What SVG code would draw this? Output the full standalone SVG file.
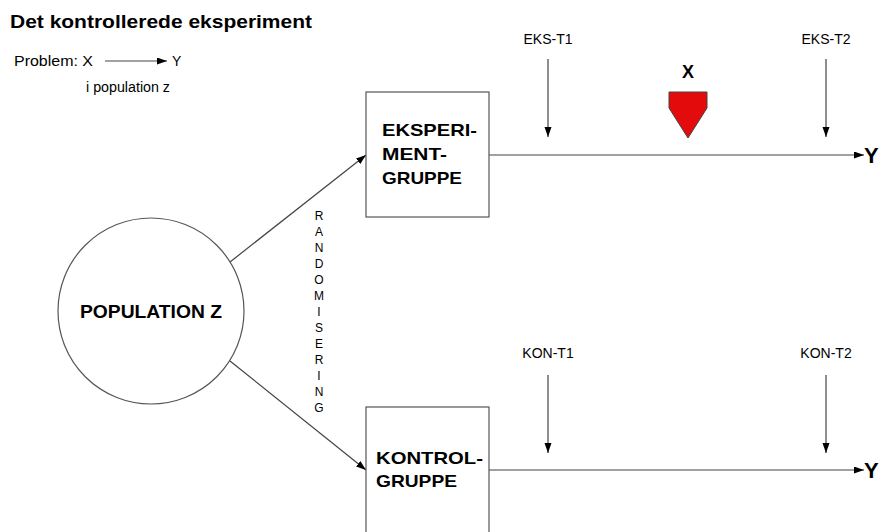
<svg xmlns="http://www.w3.org/2000/svg" width="881" height="532" viewBox="0 0 881 532">
<defs>
<style>
text{font-family:"Liberation Sans",Arial,sans-serif;fill:#000}
.b{font-weight:bold}
.ln{stroke:#444;stroke-width:1.2;fill:none}
.shape{fill:#fff;stroke:#555;stroke-width:1.2}
.lbl{font-size:14px;text-anchor:middle}
.rnd{font-size:12px;text-anchor:middle}
</style>
<marker id="ah" markerUnits="userSpaceOnUse" markerWidth="11" markerHeight="8" refX="10" refY="3.5" orient="auto">
<path d="M0,0 L10,3.5 L0,7 z" fill="#000"/>
</marker>
</defs>
<rect width="881" height="532" fill="#fff"/>
<g id="title">
<text class="b" x="10" y="28" font-size="18.5" textLength="302" lengthAdjust="spacingAndGlyphs">Det kontrollerede eksperiment</text>
<text x="14" y="66" font-size="14" textLength="79" lengthAdjust="spacingAndGlyphs">Problem: X</text>
<text x="172" y="66" font-size="14">Y</text>
<text x="86" y="92" font-size="14" textLength="84" lengthAdjust="spacingAndGlyphs">i population z</text>
</g>
<g id="connectors">
<line class="ln" x1="105" y1="61" x2="167" y2="61" marker-end="url(#ah)"/>
<line class="ln" x1="230" y1="262" x2="366" y2="155" marker-end="url(#ah)"/>
<line class="ln" x1="230" y1="361" x2="366" y2="470" marker-end="url(#ah)"/>
<line class="ln" x1="489" y1="155" x2="864" y2="155" marker-end="url(#ah)"/>
<line class="ln" x1="489" y1="470" x2="864" y2="470" marker-end="url(#ah)"/>
<line class="ln" x1="548" y1="59" x2="548" y2="137" marker-end="url(#ah)"/>
<line class="ln" x1="826" y1="59" x2="826" y2="137" marker-end="url(#ah)"/>
<line class="ln" x1="548" y1="375" x2="548" y2="453" marker-end="url(#ah)"/>
<line class="ln" x1="826" y1="375" x2="826" y2="453" marker-end="url(#ah)"/>
</g>
<g id="population">
<circle class="shape" cx="151" cy="311" r="93"/>
<text class="b" x="151" y="318" font-size="19" text-anchor="middle" textLength="142" lengthAdjust="spacingAndGlyphs">POPULATION Z</text>
</g>
<g id="eksperimentgruppe">
<rect class="shape" x="366" y="92" width="123" height="125"/>
<text class="b" x="382" y="136" font-size="17" textLength="95" lengthAdjust="spacingAndGlyphs">EKSPERI-</text>
<text class="b" x="382" y="160" font-size="17" textLength="65" lengthAdjust="spacingAndGlyphs">MENT-</text>
<text class="b" x="382" y="184" font-size="17" textLength="80" lengthAdjust="spacingAndGlyphs">GRUPPE</text>
</g>
<g id="kontrolgruppe">
<rect class="shape" x="366" y="407" width="123" height="140"/>
<text class="b" x="376" y="464" font-size="17" textLength="107" lengthAdjust="spacingAndGlyphs">KONTROL-</text>
<text class="b" x="376" y="487" font-size="17" textLength="81" lengthAdjust="spacingAndGlyphs">GRUPPE</text>
</g>
<g id="randomisering">
<text class="rnd" x="319" y="220">R</text>
<text class="rnd" x="319" y="236">A</text>
<text class="rnd" x="319" y="252">N</text>
<text class="rnd" x="319" y="268">D</text>
<text class="rnd" x="319" y="284">O</text>
<text class="rnd" x="319" y="300">M</text>
<text class="rnd" x="319" y="316">I</text>
<text class="rnd" x="319" y="332">S</text>
<text class="rnd" x="319" y="348">E</text>
<text class="rnd" x="319" y="364">R</text>
<text class="rnd" x="319" y="380">I</text>
<text class="rnd" x="319" y="396">N</text>
<text class="rnd" x="319" y="412">G</text>
</g>
<g id="measurements">
<text class="lbl" x="548" y="44">EKS-T1</text>
<text class="lbl" x="826" y="44">EKS-T2</text>
<text class="lbl" x="548" y="358">KON-T1</text>
<text class="lbl" x="826" y="358">KON-T2</text>
</g>
<g id="treatment">
<text class="b" x="688" y="78" font-size="18" text-anchor="middle">X</text>
<polygon points="669,92 707,92 707,108 688,138 669,108" fill="#e30b0b" stroke="#444" stroke-width="1"/>
</g>
<g id="outcomes">
<text class="b" x="864" y="163" font-size="22">Y</text>
<text class="b" x="864" y="478" font-size="22">Y</text>
</g>
</svg>
